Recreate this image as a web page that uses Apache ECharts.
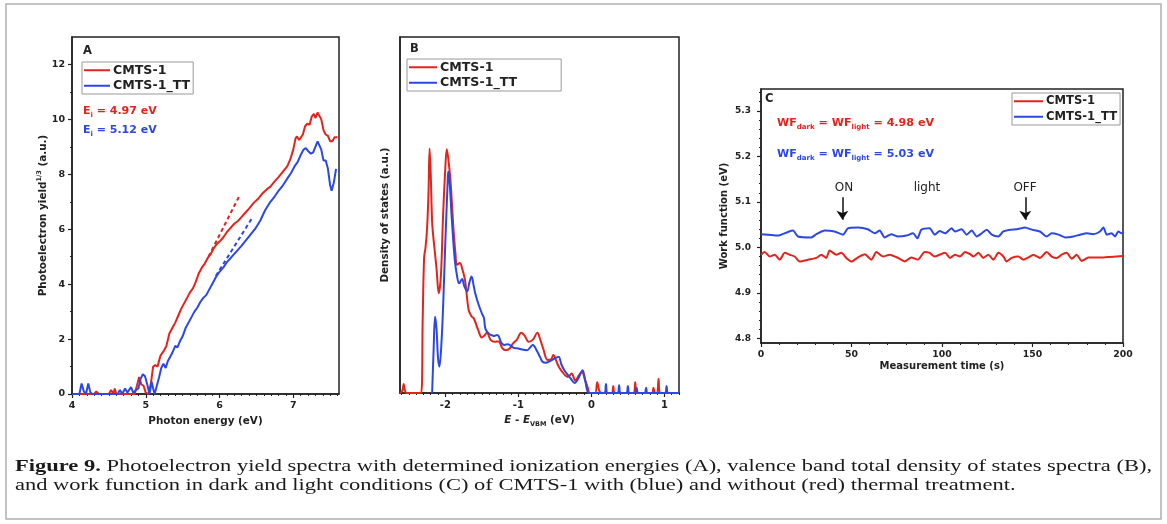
<!DOCTYPE html>
<html><head><meta charset="utf-8">
<script src="https://cdn.jsdelivr.net/npm/echarts@6/dist/echarts.min.js"></script>
<style>html,body{margin:0;padding:0;background:#fff}#c{width:1167px;height:524px}</style>
</head><body><div id="c"></div>
<script>
// ---------- DATA ----------
const seriesNames = ['CMTS-1', 'CMTS-1_TT'];

// Panel A: photoelectron yield^(1/3) vs photon energy (eV)
const aRed = [[4.00,0],[4.30,0],[4.33,0.1],[4.36,0],[4.50,0],[4.53,0.15],[4.56,0],[4.58,0.2],[4.60,0],[4.85,0],[4.88,0.3],[4.91,0.62],[4.94,0.35],[4.97,0.3],[5.00,0.05],[5.04,0],[5.07,0.4],[5.10,1.0],[5.13,1.05],[5.16,1.0],[5.20,1.4],[5.24,1.55],[5.28,1.75],[5.32,2.2],[5.36,2.4],[5.40,2.6],[5.44,2.85],[5.48,3.1],[5.52,3.3],[5.56,3.5],[5.60,3.7],[5.64,3.85],[5.68,4.1],[5.72,4.4],[5.76,4.6],[5.80,4.75],[5.84,4.95],[5.88,5.1],[5.92,5.3],[5.96,5.45],[6.00,5.55],[6.05,5.7],[6.10,5.9],[6.15,6.05],[6.20,6.2],[6.25,6.3],[6.30,6.45],[6.35,6.6],[6.40,6.75],[6.46,6.95],[6.52,7.1],[6.58,7.3],[6.64,7.45],[6.69,7.55],[6.75,7.75],[6.80,7.9],[6.86,8.1],[6.92,8.3],[6.96,8.55],[7.00,8.9],[7.03,9.3],[7.05,9.38],[7.08,9.25],[7.10,9.2],[7.13,9.45],[7.16,9.75],[7.19,9.85],[7.22,9.8],[7.25,10.1],[7.28,10.2],[7.30,10.05],[7.33,10.25],[7.35,10.3],[7.38,10.0],[7.41,9.6],[7.44,9.45],[7.47,9.4],[7.50,9.2],[7.53,9.2],[7.56,9.35],[7.60,9.35]];
const aBlue = [[4.00,0],[4.10,0],[4.13,0.38],[4.16,0.1],[4.19,0],[4.22,0.38],[4.25,0.05],[4.28,0],[4.62,0],[4.65,0.15],[4.68,0],[4.72,0.2],[4.75,0.05],[4.80,0.25],[4.83,0.05],[4.87,0.15],[4.90,0.2],[4.93,0.55],[4.96,0.72],[4.99,0.65],[5.02,0.35],[5.05,0],[5.08,0.45],[5.10,0.2],[5.12,0],[5.15,0.3],[5.18,0.6],[5.21,0.95],[5.24,1.1],[5.27,0.95],[5.30,1.2],[5.33,1.35],[5.36,1.5],[5.40,1.75],[5.43,1.7],[5.46,1.9],[5.50,2.1],[5.54,2.4],[5.58,2.6],[5.62,2.8],[5.66,3.0],[5.70,3.15],[5.74,3.35],[5.78,3.5],[5.82,3.6],[5.86,3.8],[5.90,4.0],[5.95,4.25],[6.00,4.45],[6.05,4.6],[6.10,4.8],[6.15,4.95],[6.20,5.1],[6.25,5.25],[6.30,5.4],[6.36,5.6],[6.42,5.8],[6.48,6.0],[6.55,6.3],[6.62,6.7],[6.69,7.0],[6.75,7.2],[6.80,7.4],[6.86,7.6],[6.92,7.85],[6.97,8.05],[7.02,8.3],[7.06,8.45],[7.10,8.7],[7.14,8.9],[7.17,8.95],[7.20,8.85],[7.24,8.75],[7.27,8.8],[7.30,9.0],[7.33,9.2],[7.35,9.2],[7.38,8.9],[7.41,8.5],[7.44,8.5],[7.47,8.2],[7.50,7.6],[7.52,7.4],[7.55,7.7],[7.58,8.2]];
const aRedFit = [[5.85,5.0],[6.28,7.27]];
const aBlueFit = [[5.95,4.3],[6.44,6.4]];
const aLabels = ['4.97', '5.12'];

// Panel B: density of states vs E - E_VBM (eV)
const bRed = [[-2.62,0],[-2.59,0.05],[-2.57,0.25],[-2.55,0.05],[-2.53,0],[-2.33,0],[-2.31,2.0],[-2.29,3.8],[-2.27,4.1],[-2.25,4.6],[-2.23,5.6],[-2.215,6.87],[-2.20,6.2],[-2.18,4.8],[-2.16,4.3],[-2.12,3.5],[-2.09,2.8],[-2.06,3.3],[-2.03,5.0],[-2.00,6.3],[-1.98,6.85],[-1.96,6.6],[-1.93,6.0],[-1.89,4.67],[-1.86,3.9],[-1.84,3.6],[-1.80,3.65],[-1.77,3.5],[-1.73,3.17],[-1.68,2.33],[-1.64,2.15],[-1.61,2.1],[-1.55,1.77],[-1.50,1.56],[-1.46,1.62],[-1.43,1.7],[-1.38,1.49],[-1.33,1.44],[-1.27,1.45],[-1.22,1.26],[-1.17,1.2],[-1.12,1.25],[-1.07,1.4],[-1.02,1.5],[-0.96,1.69],[-0.91,1.6],[-0.86,1.44],[-0.80,1.5],[-0.74,1.69],[-0.70,1.5],[-0.66,1.25],[-0.60,0.93],[-0.55,0.95],[-0.52,1.07],[-0.48,0.9],[-0.45,0.75],[-0.40,0.6],[-0.36,0.5],[-0.32,0.45],[-0.27,0.55],[-0.22,0.35],[-0.17,0.5],[-0.13,0.6],[-0.09,0.4],[-0.05,0.15],[-0.02,0],[0.05,0],[0.08,0.3],[0.11,0.05],[0.14,0],[0.28,0],[0.30,0.2],[0.32,0],[0.58,0],[0.60,0.3],[0.62,0],[0.83,0],[0.85,0.15],[0.87,0],[0.90,0],[0.92,0.4],[0.94,0],[1.2,0]];
const bBlue = [[-2.18,0],[-2.16,1.2],[-2.14,2.14],[-2.12,1.8],[-2.10,1.0],[-2.08,0.74],[-2.05,1.5],[-2.03,2.42],[-2.00,4.2],[-1.97,5.8],[-1.96,6.22],[-1.94,5.9],[-1.91,4.86],[-1.87,3.74],[-1.84,3.3],[-1.81,3.08],[-1.77,3.2],[-1.74,3.0],[-1.70,2.85],[-1.67,3.1],[-1.64,3.27],[-1.61,3.0],[-1.59,2.8],[-1.55,2.52],[-1.50,2.24],[-1.47,2.1],[-1.45,1.8],[-1.40,1.66],[-1.36,1.62],[-1.33,1.6],[-1.29,1.63],[-1.27,1.6],[-1.23,1.4],[-1.19,1.35],[-1.14,1.37],[-1.09,1.3],[-1.05,1.26],[-1.00,1.25],[-0.95,1.22],[-0.88,1.2],[-0.83,1.3],[-0.80,1.35],[-0.75,1.2],[-0.70,1.0],[-0.67,0.88],[-0.62,0.85],[-0.58,0.88],[-0.52,0.95],[-0.45,1.02],[-0.41,0.8],[-0.37,0.64],[-0.32,0.5],[-0.28,0.4],[-0.23,0.28],[-0.18,0.4],[-0.12,0.64],[-0.08,0.3],[-0.03,0],[0.18,0],[0.20,0.25],[0.22,0],[0.36,0],[0.38,0.22],[0.40,0],[0.48,0],[0.50,0.2],[0.52,0],[0.60,0],[0.62,0.15],[0.64,0],[0.73,0],[0.75,0.15],[0.77,0],[1.01,0],[1.03,0.2],[1.05,0],[1.2,0]];

// Panel C: work function (eV) vs measurement time (s)
const cRed = [[0,4.984],[2,4.990],[4.8,4.980],[7.6,4.984],[10.3,4.973],[13.1,4.988],[15.8,4.984],[18.6,4.980],[21.4,4.969],[26,4.973],[30.6,4.977],[33.3,4.984],[36.1,4.977],[37.9,4.993],[41.6,4.984],[44.4,4.988],[47.1,4.977],[49.9,4.969],[53.6,4.978],[57.3,4.985],[61,4.973],[63.7,4.990],[67.4,4.980],[71.1,4.984],[75.7,4.977],[79.4,4.969],[83,4.978],[86.7,4.973],[90.4,4.990],[93.2,4.988],[95.9,4.980],[98.7,4.984],[101.7,4.988],[104.4,4.977],[107.2,4.984],[109.9,4.980],[112.7,4.990],[115.5,4.985],[117.3,4.980],[120.1,4.988],[122.8,4.977],[125.6,4.984],[128.4,4.973],[131.1,4.988],[133.9,4.980],[135.7,4.969],[138.5,4.977],[142.2,4.980],[144.9,4.973],[147.7,4.978],[150.5,4.984],[154.1,4.977],[157.8,4.990],[160.6,4.980],[163.4,4.977],[166.1,4.984],[168.9,4.988],[171.7,4.975],[174.4,4.984],[177.2,4.970],[180.9,4.978],[185.5,4.978],[189.2,4.978],[192.8,4.979],[196.5,4.980],[200,4.981]];
const cBlue = [[0,5.029],[3.9,5.028],[9.4,5.026],[14.9,5.034],[17.7,5.037],[20.4,5.024],[27.8,5.022],[30.6,5.029],[35.2,5.037],[40.6,5.035],[45.3,5.028],[48,5.042],[53.6,5.044],[59,5.040],[62.8,5.031],[65.6,5.037],[68.3,5.022],[72,5.029],[75.7,5.024],[80.3,5.026],[84,5.031],[86.4,5.020],[88.6,5.039],[93.2,5.042],[96,5.028],[98.7,5.036],[101.7,5.031],[105.3,5.042],[107.2,5.035],[110.8,5.040],[113.6,5.028],[116.4,5.037],[119.2,5.024],[122,5.031],[124.7,5.039],[127.5,5.028],[131.1,5.024],[133.9,5.035],[137.6,5.039],[141.3,5.040],[145.9,5.044],[149.6,5.039],[154.1,5.035],[157.8,5.024],[160.6,5.031],[164.3,5.028],[168,5.022],[172.6,5.024],[176.3,5.028],[180,5.031],[183.6,5.029],[187.3,5.035],[189.2,5.044],[191,5.028],[193.7,5.031],[195.6,5.024],[197.4,5.035],[199.3,5.031],[200,5.033]];
const cLabels = ['4.98', '5.03'];
const cLightOn = 45, cLightOff = 146;

// tick labels
const aXTicks = [4, 5, 6, 7];
const aYTicks = [0, 2, 4, 6, 8, 10, 12];
const bXTicks = [-2, -1, 0, 1];
const cXTicks = [0, 50, 100, 150, 200];
const cYTicks = [4.8, 4.9, 5.0, 5.1, 5.2, 5.3];

// ---------- STYLE / LAYOUT ----------
const FONT = 'DejaVu Sans', SERIF = 'Liberation Serif';
const RED = '#e5231d', BLUE = '#2b47e4', INK = '#222';

function minors(min, max, step, majors) {
  const out = []; const n = Math.round((max - min) / step);
  for (let i = 0; i <= n; i++) {
    const v = +(min + i * step).toFixed(6);
    if (!majors.some(m => Math.abs(m - v) < 1e-6)) out.push(v);
  }
  return out;
}
function mainAxis(kind, grid, min, max, majors, extra, labelSize, nameSize) {
  return Object.assign({
    type: 'value', gridIndex: grid, min, max, position: kind === 'x' ? 'bottom' : 'left',
    axisLine: { show: true, onZero: false, lineStyle: { color: INK, width: 1.5 } },
    axisTick: { show: true, customValues: majors, length: 4, lineStyle: { color: INK, width: 1.2 } },
    axisLabel: { customValues: majors, fontFamily: FONT, fontWeight: 'bold', fontSize: labelSize || 9.5, color: INK, margin: 7 },
    splitLine: { show: false }, nameLocation: 'middle',
    nameTextStyle: { fontFamily: FONT, fontWeight: 'bold', fontSize: nameSize || 10.4, color: INK }
  }, extra || {});
}
function minorAxis(kind, grid, min, max, vals) {
  return {
    type: 'value', gridIndex: grid, min, max, position: kind === 'x' ? 'bottom' : 'left',
    axisLine: { show: false }, axisLabel: { show: false }, splitLine: { show: false },
    axisTick: { show: true, customValues: vals, length: 2, lineStyle: { color: INK, width: 1 } }
  };
}
const nameRich = {
  n: { fontFamily: FONT, fontWeight: 'bold', fontSize: 10.4, color: INK },
  p: { fontFamily: FONT, fontWeight: 'bold', fontSize: 6.5, color: INK, verticalAlign: 'top', lineHeight: 14 },
  i: { fontFamily: FONT, fontWeight: 'bold', fontStyle: 'italic', fontSize: 10.4, color: INK },
  s: { fontFamily: FONT, fontWeight: 'bold', fontSize: 6.5, color: INK, verticalAlign: 'bottom', lineHeight: 15 }
};

const grids = [
  { left: 72, top: 37, width: 267, height: 357 },
  { left: 400, top: 37, width: 279, height: 356 },
  { left: 761, top: 89, width: 362, height: 254 }
].map(g => Object.assign(g, { show: true, borderColor: INK, borderWidth: 1.5, backgroundColor: 'transparent' }));

const xAxis = [
  mainAxis('x', 0, 4, 7.62, aXTicks, { name: 'Photon energy (eV)', nameGap: 20 }),
  minorAxis('x', 0, 4, 7.62, minors(4, 7.6, 0.1, aXTicks)),
  mainAxis('x', 1, -2.62, 1.2, bXTicks, { name: '{i|E}{n| - }{i|E}{s|VBM}{n| (eV)}', nameGap: 19,
    nameTextStyle: { rich: nameRich } }, 10),
  minorAxis('x', 1, -2.62, 1.2, minors(-2.6, 1.2, 0.1, bXTicks)),
  mainAxis('x', 2, 0, 200, cXTicks, { name: 'Measurement time (s)', nameGap: 18 }, 9.3, 10),
  minorAxis('x', 2, 0, 200, minors(0, 200, 10, cXTicks))
];
const yAxis = [
  mainAxis('y', 0, 0, 13, aYTicks, { name: '{n|Photoelectron yield}{p|1/3}{n| (a.u.)}', nameGap: 21,
    nameTextStyle: { rich: nameRich } }),
  minorAxis('y', 0, 0, 13, minors(1, 11, 2, [])),
  mainAxis('y', 1, 0, 10, [], { name: 'Density of states (a.u.)', nameGap: 10,
    axisTick: { show: false }, axisLabel: { show: false } }),
  mainAxis('y', 2, 4.79, 5.348, cYTicks, { name: 'Work function (eV)', nameGap: 32,
    axisLabel: { customValues: cYTicks, fontFamily: FONT, fontWeight: 'bold', fontSize: 9, color: INK, margin: 10,
      formatter: v => v.toFixed(1) } }, 9, 10),
  minorAxis('y', 2, 4.79, 5.348, minors(4.8, 5.34, 0.02, cYTicks))
];

function line(name, data, color, xi, yi, extra) {
  return Object.assign({ type: 'line', name, data, xAxisIndex: xi, yAxisIndex: yi, showSymbol: false,
    symbol: 'none', lineStyle: { color, width: 2 }, itemStyle: { color }, silent: true }, extra || {});
}
const series = [
  line('fitR', aRedFit, RED, 0, 0, { lineStyle: { color: RED, width: 2, type: [4, 3] } }),
  line('fitB', aBlueFit, BLUE, 0, 0, { lineStyle: { color: BLUE, width: 2, type: [4, 3] } }),
  line(seriesNames[0], aRed, RED, 0, 0),
  line(seriesNames[1], aBlue, BLUE, 0, 0),
  line(seriesNames[0], bRed, RED, 2, 2, { smooth: 0.35 }),
  line(seriesNames[1], bBlue, BLUE, 2, 2, { smooth: 0.35 }),
  line(seriesNames[0], cRed, RED, 4, 3, { smooth: 0.2 }),
  line(seriesNames[1], cBlue, BLUE, 4, 3, { smooth: 0.2,
    markLine: { silent: true, symbol: ['none', 'arrow'], symbolSize: 9, animation: false,
      label: { show: false }, lineStyle: { color: '#111', width: 1.5, type: 'solid' },
      data: [
        [{ coord: [cLightOn, 5.11] }, { coord: [cLightOn, 5.061] }],
        [{ coord: [cLightOff, 5.11] }, { coord: [cLightOff, 5.061] }]
      ] } })
];

function legend(left, top, padRight, size, iw) {
  return { left, top, orient: 'vertical', data: seriesNames, selectedMode: false,
    icon: 'rect', itemWidth: iw, itemHeight: 2, itemGap: 1,
    padding: [1, padRight, 1, 2], borderColor: '#999', borderWidth: 1,
    textStyle: { fontFamily: FONT, fontWeight: 'bold', fontSize: size, color: INK, lineHeight: 14.5, padding: [0, 0, 0, -2] } };
}

function txt(x, y, text, rich, extra) {
  return Object.assign({ type: 'text', x, y, silent: true,
    style: { text, rich, fontFamily: FONT, fontSize: 11.5, fontWeight: 'bold', fill: INK, verticalAlign: 'middle' } }, extra || {});
}
function subRich(color, size) {
  return {
    m: { fontFamily: FONT, fontWeight: 'bold', fontSize: size, fill: color, lineHeight: 16 },
    s: { fontFamily: FONT, fontWeight: 'bold', fontSize: Math.round(size * 0.62), fill: color, verticalAlign: 'bottom', lineHeight: 16 }
  };
}
function plain(x, y, text) {
  return { type: 'text', x, y, silent: true, style: { text, fontFamily: FONT, fontSize: 12, fill: INK, align: 'center', verticalAlign: 'middle' } };
}

// caption width fit
const cap1 = ' Photoelectron yield spectra with determined ionization energies (A), valence band total density of states spectra (B),';
const cap2 = 'and work function in dark and light conditions (C) of CMTS-1 with (blue) and without (red) thermal treatment.';
const CAPSIZE = 17;
const mctx = document.createElement('canvas').getContext('2d');
mctx.font = 'bold ' + CAPSIZE + 'px "Liberation Serif"';
let w1 = mctx.measureText('Figure 9.').width;
mctx.font = CAPSIZE + 'px "Liberation Serif"';
w1 += mctx.measureText(cap1).width;
const capScale = 1137 / w1;
const capRich = { b: { fontFamily: SERIF, fontWeight: 'bold', fontSize: CAPSIZE, fill: '#1a1a1a' } };

const graphic = [
  { type: 'rect', silent: true, shape: { x: 6, y: 4, width: 1155, height: 515 }, style: { fill: 'none', stroke: '#b0b0b0', lineWidth: 1.5 } },
  txt(83, 51, 'A'), txt(410, 49, 'B'), txt(765, 99, 'C'),
  txt(83, 111, '{m|E}{s|i}{m| = ' + aLabels[0] + ' eV}', subRich(RED, 11)),
  txt(83, 130, '{m|E}{s|i}{m| = ' + aLabels[1] + ' eV}', subRich(BLUE, 11)),
  txt(777, 123, '{m|WF}{s|dark}{m| = WF}{s|light}{m| = ' + cLabels[0] + ' eV}', subRich(RED, 11.1)),
  txt(777, 154, '{m|WF}{s|dark}{m| = WF}{s|light}{m| = ' + cLabels[1] + ' eV}', subRich(BLUE, 11.1)),
  plain(844, 188, 'ON'), plain(927, 188, 'light'), plain(1025, 188, 'OFF'),
  { type: 'text', x: 15, y: 467, scaleX: capScale, silent: true,
    style: { text: '{b|Figure 9.}' + cap1, rich: capRich, fontFamily: SERIF, fontSize: CAPSIZE, fill: '#1a1a1a', verticalAlign: 'middle' } },
  { type: 'text', x: 15, y: 486, scaleX: capScale, silent: true,
    style: { text: cap2, fontFamily: SERIF, fontSize: CAPSIZE, fill: '#1a1a1a', verticalAlign: 'middle' } }
];

const chart = echarts.init(document.getElementById('c'), null, { renderer: 'canvas' });
chart.setOption({
  animation: false,
  backgroundColor: '#fff',
  grid: grids, xAxis, yAxis, series,
  legend: [legend(82, 62, 3, 12.6, 26), legend(407, 59, 44, 12.6, 28), legend(1012, 93, 3, 11.6, 29)],
  graphic
});
</script></body></html>
